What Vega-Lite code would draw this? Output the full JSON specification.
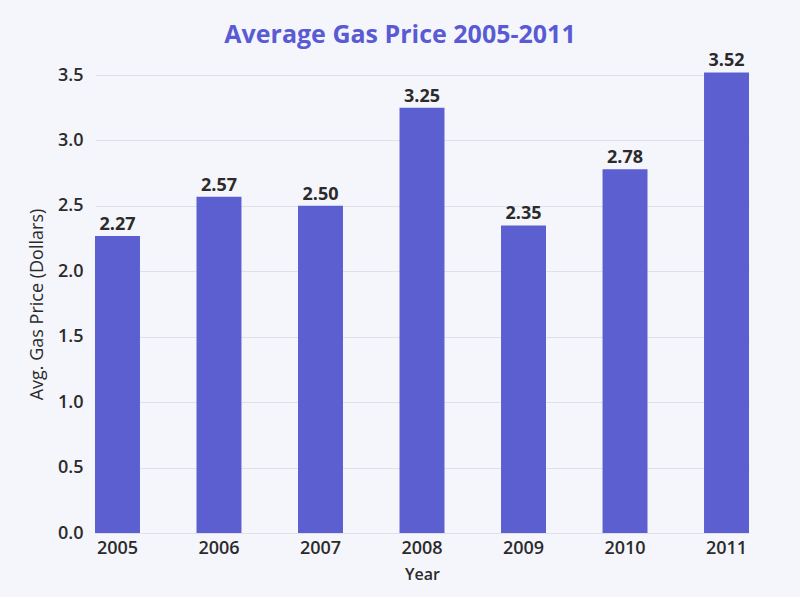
{
  "$schema": "https://vega.github.io/schema/vega-lite/v6.json",
  "width": 654,
  "height": 458,
  "autosize": {"type": "none"},
  "padding": {"left": 95, "top": 75, "right": 51, "bottom": 64},
  "background": "#f5f6fc",
  "title": {
    "text": "Average Gas Price 2005-2011",
    "font": "Open Sans",
    "fontSize": 25,
    "fontWeight": "bold",
    "color": "#5a5bd4",
    "offset": 4,
    "dx": -22
  },
  "data": {
    "values": [
      {"Year": "2005", "Price": 2.27},
      {"Year": "2006", "Price": 2.57},
      {"Year": "2007", "Price": 2.50},
      {"Year": "2008", "Price": 3.25},
      {"Year": "2009", "Price": 2.35},
      {"Year": "2010", "Price": 2.78},
      {"Year": "2011", "Price": 3.52}
    ]
  },
  "encoding": {
    "x": {
      "field": "Year",
      "type": "nominal",
      "scale": {"paddingInner": 0.557, "paddingOuter": 0},
      "axis": {
        "title": "Year",
        "labelAngle": 0,
        "labelFont": "Open Sans",
        "labelFontSize": 18,
        "labelFontWeight": 600,
        "labelColor": "#2b2b2b",
        "labelPadding": 6,
        "titleFont": "Open Sans",
        "titleFontSize": 16,
        "titleFontWeight": 600,
        "titleColor": "#2b2b2b",
        "titlePadding": 9,
        "ticks": false,
        "domain": false
      }
    },
    "y": {
      "field": "Price",
      "type": "quantitative",
      "scale": {"domain": [0, 3.5], "nice": false},
      "axis": {
        "title": "Avg. Gas Price (Dollars)",
        "values": [0, 0.5, 1, 1.5, 2, 2.5, 3, 3.5],
        "format": ".1f",
        "labelFont": "Open Sans",
        "labelFontSize": 18,
        "labelFontWeight": 600,
        "labelColor": "#2b2b2b",
        "labelPadding": 12,
        "titleFont": "Open Sans",
        "titleFontSize": 18,
        "titleFontWeight": "normal",
        "titleColor": "#2b2b2b",
        "titlePadding": 11,
        "ticks": false,
        "domain": false,
        "gridColor": "#dfe0e8",
        "gridWidth": 1
      }
    }
  },
  "layer": [
    {"mark": {"type": "bar", "color": "#5b5fd0", "clip": false}},
    {
      "mark": {
        "type": "text",
        "dy": -11,
        "font": "Open Sans",
        "fontSize": 18,
        "fontWeight": "bold",
        "color": "#2b2b2b"
      },
      "encoding": {"text": {"field": "Price", "type": "quantitative", "format": ".2f"}}
    }
  ],
  "config": {"view": {"stroke": null}}
}
